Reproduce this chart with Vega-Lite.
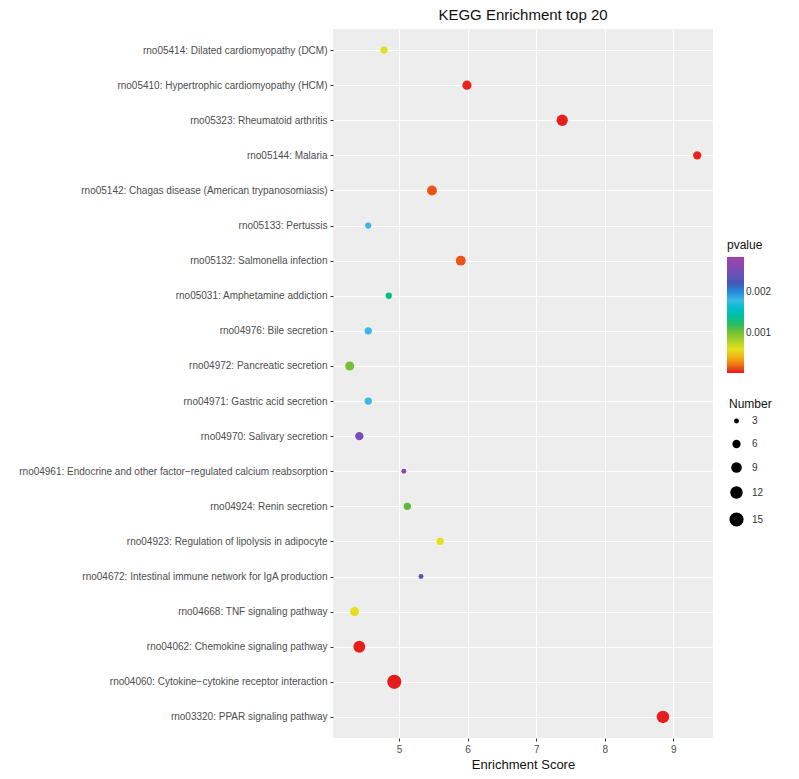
{
  "$schema": "https://vega.github.io/schema/vega-lite/v6.json",
  "autosize": "none",
  "width": 380,
  "height": 709,
  "padding": {"left": 333, "top": 29, "right": 86, "bottom": 41},
  "background": "white",
  "title": {"text": "KEGG Enrichment top 20", "fontSize": 15, "fontWeight": "normal", "font": "Liberation Sans", "color": "#111111", "anchor": "middle", "frame": "group", "offset": 6},
  "config": {
    "view": {"fill": "#EDEDED", "stroke": null},
    "font": "Liberation Sans"
  },
  "data": {"values": [
    {"term": "rno05414: Dilated cardiomyopathy (DCM)", "score": 4.78, "pvalue": 0.0006, "count": 5},
    {"term": "rno05410: Hypertrophic cardiomyopathy (HCM)", "score": 5.99, "pvalue": 0.00008, "count": 7},
    {"term": "rno05323: Rheumatoid arthritis", "score": 7.38, "pvalue": 0.00005, "count": 10},
    {"term": "rno05144: Malaria", "score": 9.35, "pvalue": 0.00008, "count": 6},
    {"term": "rno05142: Chagas disease (American trypanosomiasis)", "score": 5.48, "pvalue": 0.00016, "count": 8},
    {"term": "rno05133: Pertussis", "score": 4.55, "pvalue": 0.0018, "count": 4},
    {"term": "rno05132: Salmonella infection", "score": 5.9, "pvalue": 0.00016, "count": 8},
    {"term": "rno05031: Amphetamine addiction", "score": 4.85, "pvalue": 0.0013, "count": 4},
    {"term": "rno04976: Bile secretion", "score": 4.55, "pvalue": 0.0018, "count": 5},
    {"term": "rno04972: Pancreatic secretion", "score": 4.28, "pvalue": 0.001, "count": 7},
    {"term": "rno04971: Gastric acid secretion", "score": 4.55, "pvalue": 0.0018, "count": 5},
    {"term": "rno04970: Salivary secretion", "score": 4.42, "pvalue": 0.0025, "count": 6},
    {"term": "rno04961: Endocrine and other factor\u2212regulated calcium reabsorption", "score": 5.07, "pvalue": 0.0028, "count": 3},
    {"term": "rno04924: Renin secretion", "score": 5.12, "pvalue": 0.0011, "count": 5},
    {"term": "rno04923: Regulation of lipolysis in adipocyte", "score": 5.6, "pvalue": 0.0006, "count": 5},
    {"term": "rno04672: Intestinal immune network for IgA production", "score": 5.32, "pvalue": 0.0023, "count": 3},
    {"term": "rno04668: TNF signaling pathway", "score": 4.35, "pvalue": 0.0006, "count": 7},
    {"term": "rno04062: Chemokine signaling pathway", "score": 4.42, "pvalue": 0.00005, "count": 11},
    {"term": "rno04060: Cytokine\u2212cytokine receptor interaction", "score": 4.93, "pvalue": 0.00003, "count": 15},
    {"term": "rno03320: PPAR signaling pathway", "score": 8.85, "pvalue": 0.00005, "count": 12}
  ]},
  "layer": [
    {
      "mark": {"type": "point", "filled": true, "opacity": 1, "shape": "circle"},
      "encoding": {
        "x": {"field": "score", "type": "quantitative",
          "scale": {"domain": [4.036, 9.58], "nice": false, "zero": false},
          "axis": {"values": [5, 6, 7, 8, 9], "title": "Enrichment Score", "titleFontSize": 13, "titleFontWeight": "normal", "titleColor": "#111111", "titlePadding": 4,
            "labelFontSize": 10, "labelColor": "#4d4d4d", "labelPadding": 3, "tickSize": 3, "tickColor": "#333333", "domain": false,
            "grid": true, "gridColor": "#ffffff", "gridWidth": 1}},
        "y": {"field": "term", "type": "nominal", "sort": null,
          "scale": {"type": "point", "padding": 0.6},
          "axis": {"title": null, "labelFontSize": 10, "labelColor": "#4d4d4d", "labelPadding": 3, "tickSize": 3, "tickColor": "#333333", "domain": false,
            "grid": true, "gridColor": "#ffffff", "gridWidth": 1.1, "labelLimit": 400}},
        "color": {"field": "pvalue", "type": "quantitative",
          "scale": {"domain": [0.00002, 0.0001, 0.0003, 0.0006, 0.0011, 0.0018, 0.0022, 0.00285],
                    "range": ["#e41a1c", "#e8261c", "#f39a22", "#e4e01c", "#5cb83c", "#3cb8e6", "#4458b8", "#a040a8"]},
          "legend": {"title": "pvalue", "orient": "none", "legendX": 394, "legendY": 211, "values": [0.001, 0.002], "format": ".3f",
            "gradientLength": 116, "gradientThickness": 17, "gradientStrokeWidth": 0, "titleFontSize": 12, "titleFontWeight": "normal", "titleColor": "#111111",
            "labelFontSize": 10, "labelColor": "#333333", "tickCount": 2}},
        "size": {"field": "count", "type": "quantitative",
          "scale": {"domain": [2, 15], "range": [10, 200], "zero": false},
          "legend": {"title": "Number", "orient": "none", "legendX": 396, "legendY": 370, "values": [3, 6, 9, 12, 15],
            "symbolFillColor": "#000000", "symbolStrokeWidth": 0, "symbolType": "circle", "titleFontSize": 12, "titleFontWeight": "normal", "titleColor": "#111111",
            "labelFontSize": 10, "labelColor": "#333333", "labelOffset": 8, "rowPadding": 13}}
      }
    }
  ]
}
